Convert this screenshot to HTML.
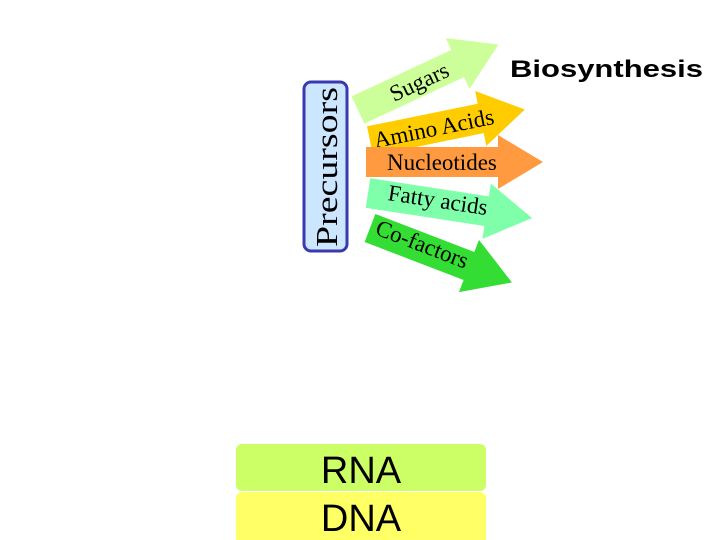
<!DOCTYPE html>
<html><head><meta charset="utf-8"><style>
html,body{margin:0;padding:0;background:#fff;}
svg{display:block;}
</style></head><body>
<svg width="720" height="540" viewBox="0 0 720 540" xmlns="http://www.w3.org/2000/svg">
<rect x="304" y="82" width="43" height="169" rx="7" fill="#cce6ff" stroke="#3a3ab0" stroke-width="3"/>
<text transform="translate(337,167) rotate(-90)" text-anchor="middle" font-family="Liberation Serif, serif" font-size="31" textLength="160" lengthAdjust="spacingAndGlyphs" fill="#000">Precursors</text>

<g font-family="Liberation Serif, serif" font-size="23" fill="#000">
<!-- Sugars -->
<g transform="translate(358,110) rotate(-25)">
<polygon points="0,-15 110,-15 110,-28 155,0 110,28 110,15 0,15" fill="#ccff99"/>
<text x="36" y="8">Sugars</text>
</g>
<!-- Amino Acids -->
<g transform="translate(370,141) rotate(-11.5)">
<polygon points="0,-15 113,-15 113,-28 158,0 113,28 113,15 0,15" fill="#ffcc00"/>
<text x="4" y="8">Amino Acids</text>
</g>
<!-- Fatty acids -->
<g transform="translate(368,193) rotate(8.7)">
<polygon points="0,-15 120,-15 120,-28 166,0 120,28 120,15 0,15" fill="#80ffaa"/>
<text x="20" y="4">Fatty acids</text>
</g>
<!-- Nucleotides -->
<g transform="translate(366,162)">
<polygon points="0,-15 132,-15 132,-27 177,0 132,27 132,15 0,15" fill="#ff9a40"/>
<text x="21" y="8">Nucleotides</text>
</g>
<!-- Co-factors -->
<g transform="translate(370,228) rotate(21)">
<polygon points="0,-15 106,-15 106,-28 152,0 106,28 106,15 0,15" fill="#33dd33"/>
<text x="6" y="4">Co-factors</text>
</g>
</g>

<text x="510" y="77" font-family="Liberation Sans, sans-serif" font-weight="bold" font-size="24" textLength="193" lengthAdjust="spacingAndGlyphs" fill="#000">Biosynthesis</text>

<rect x="236" y="444" width="250" height="47" rx="6" fill="#ccff66"/>
<rect x="236" y="492" width="250" height="52" rx="6" fill="#ffff66"/>
<text x="361" y="483" text-anchor="middle" font-family="Liberation Sans, sans-serif" font-size="38" fill="#000">RNA</text>
<text x="361" y="531" text-anchor="middle" font-family="Liberation Sans, sans-serif" font-size="38" fill="#000">DNA</text>
</svg>
</body></html>
